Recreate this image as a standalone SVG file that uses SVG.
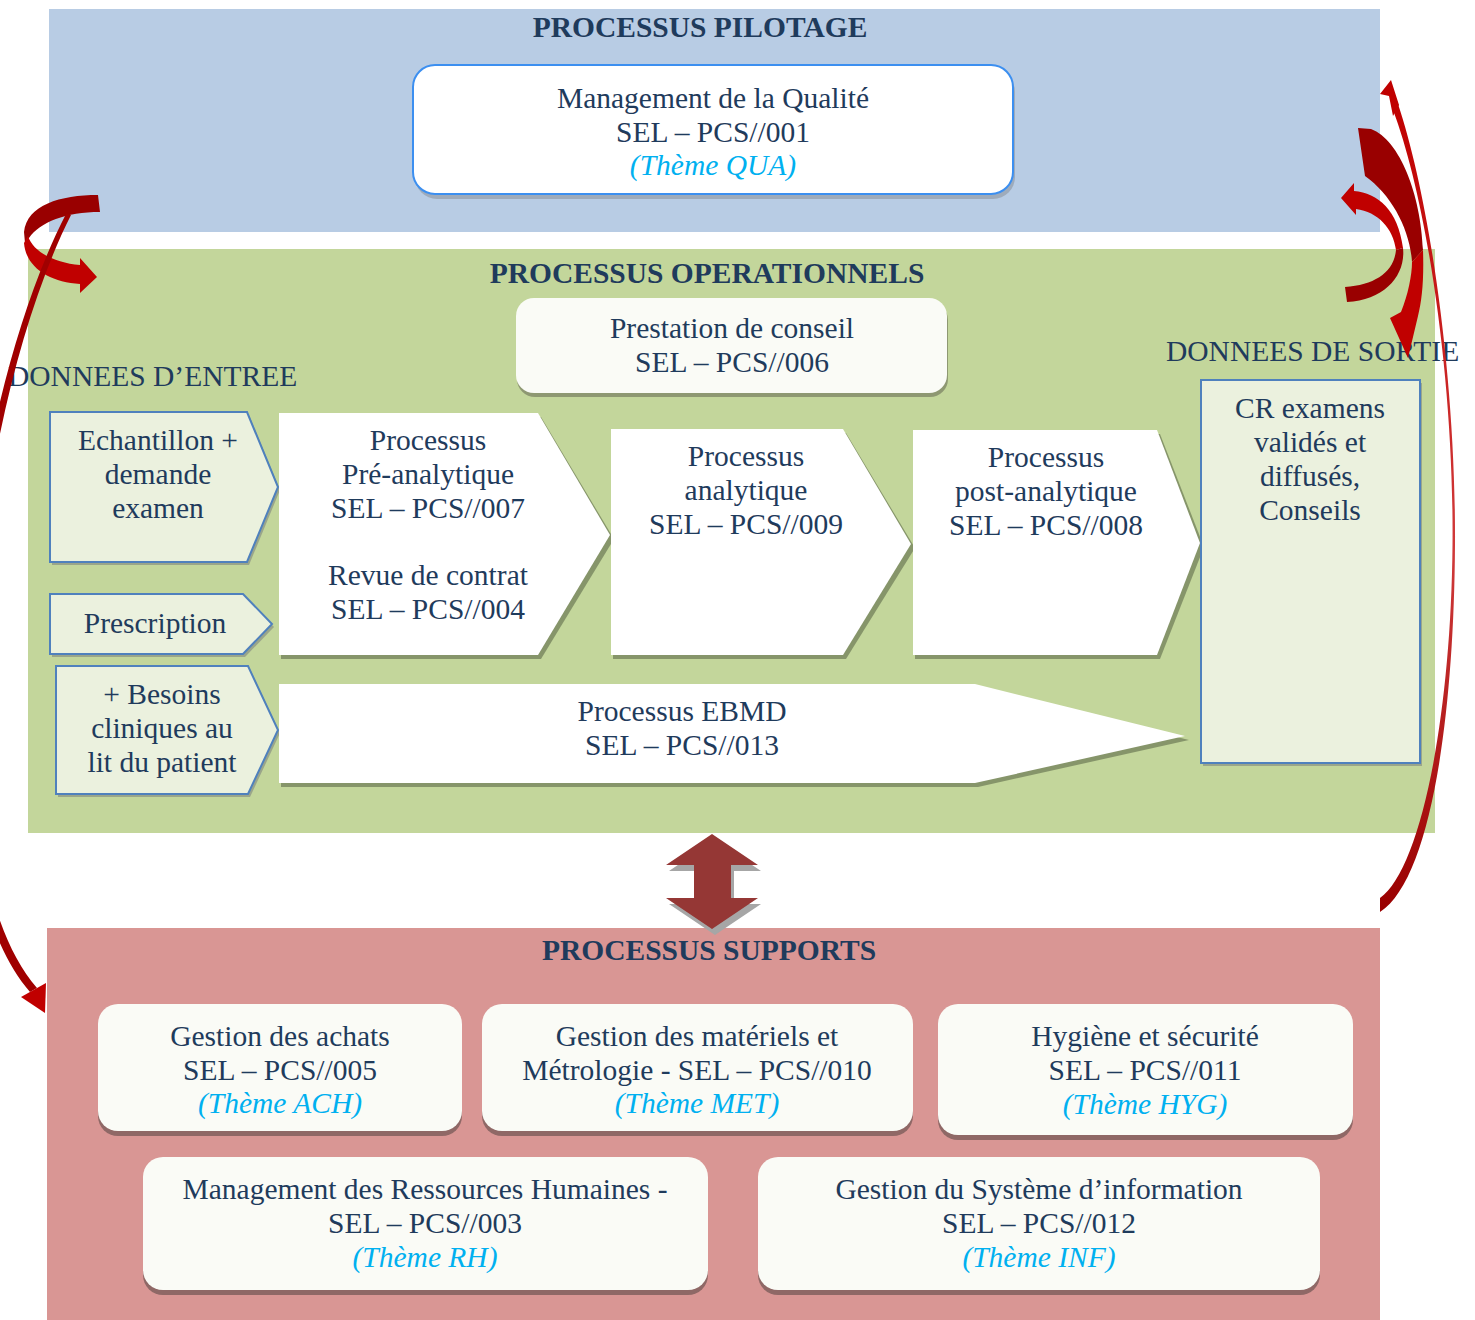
<svg xmlns="http://www.w3.org/2000/svg" xmlns:xlink="http://www.w3.org/1999/xlink" width="1475" height="1320" viewBox="0 0 1475 1320">
  <defs>
    <style>
      .t { font-family: "Liberation Serif", "Times New Roman", serif; font-size: 29.5px; fill: #1f3b5c; text-anchor: middle; }
      .title { font-weight: bold; }
      .lbl { text-anchor: start; }
      .theme { font-style: italic; fill: #00b0f0; }
      .card { fill: #fafbf6; }
      .input { fill: #ebf1de; stroke: #4f81bd; stroke-width: 2; }
      .proc { fill: #ffffff; }
      .shadow-g { fill: #86956a; }
      .shadow-r { fill: #8f6866; }
      .dark { fill: #990000; }
      .light { fill: #c00000; }
    </style>
    <linearGradient id="arcR" x1="0" y1="0" x2="0" y2="1">
      <stop offset="0" stop-color="#c00000"/>
      <stop offset="0.55" stop-color="#d03a3a"/>
      <stop offset="1" stop-color="#990000"/>
    </linearGradient>
  </defs>

  <!-- bands -->
  <g id="band-pilotage">
    <rect x="49" y="9" width="1331" height="223" fill="#b8cce4"/>
    <text class="t title" x="700" y="37">PROCESSUS PILOTAGE</text>
  </g>
  <g id="band-operationnels">
    <rect x="28" y="249" width="1407" height="584" fill="#c3d69b"/>
    <text class="t title" x="707" y="283">PROCESSUS OPERATIONNELS</text>
    <text class="t lbl" x="8" y="386">DONNEES D’ENTREE</text>
    <text class="t lbl" x="1166" y="361">DONNEES DE SORTIE</text>
  </g>
  <g id="band-supports">
    <rect x="47" y="928" width="1333" height="392" fill="#d99694"/>
    <text class="t title" x="709" y="960">PROCESSUS SUPPORTS</text>
  </g>

  <!-- pilotage -->
  <g id="node-qualite">
    <rect x="415" y="70" width="600" height="129" rx="22" fill="#9eabbb"/>
    <rect x="413" y="65" width="600" height="129" rx="22" fill="#ffffff" stroke="#3c8ff0" stroke-width="2"/>
    <text class="t" x="713" y="108">Management de la Qualité</text>
    <text class="t" x="713" y="142">SEL – PCS//001</text>
    <text class="t theme" x="713" y="175">(Thème QUA)</text>
  </g>

  <!-- operationnels -->
  <g id="node-conseil">
    <rect x="517" y="302" width="431" height="95" rx="18" fill="#8e9872"/>
    <rect x="516" y="298" width="431" height="95" rx="18" class="card"/>
    <text class="t" x="732" y="338">Prestation de conseil</text>
    <text class="t" x="732" y="372">SEL – PCS//006</text>
  </g>

  <g id="node-echantillon">
    <path d="M52,415 L249,415 L280,490 L249,565 L52,565 Z" fill="#9aa58a"/>
    <path class="input" d="M50,412 L247,412 L278,487 L247,562 L50,562 Z"/>
    <text class="t" x="158" y="450">Echantillon +</text>
    <text class="t" x="158" y="484">demande</text>
    <text class="t" x="158" y="518">examen</text>
  </g>
  <g id="node-prescription">
    <path d="M52,597 L245,597 L274,627 L245,657 L52,657 Z" fill="#9aa58a"/>
    <path class="input" d="M50,594 L243,594 L272,624 L243,654 L50,654 Z"/>
    <text class="t" x="155" y="633">Prescription</text>
  </g>
  <g id="node-besoins">
    <path d="M58,669 L250,669 L280,733 L250,797 L58,797 Z" fill="#9aa58a"/>
    <path class="input" d="M56,666 L248,666 L278,730 L248,794 L56,794 Z"/>
    <text class="t" x="162" y="704">+ Besoins</text>
    <text class="t" x="162" y="738">cliniques au</text>
    <text class="t" x="162" y="772">lit du patient</text>
  </g>

  <g id="node-pre-analytique">
    <path class="shadow-g" d="M281,417 L541,417 L614,539 L541,659 L281,659 Z"/>
    <path class="proc" d="M279,413 L538,413 L610,535 L538,655 L279,655 Z"/>
    <text class="t" x="428" y="450">Processus</text>
    <text class="t" x="428" y="484">Pré-analytique</text>
    <text class="t" x="428" y="518">SEL – PCS//007</text>
    <text class="t" x="428" y="585">Revue de contrat</text>
    <text class="t" x="428" y="619">SEL – PCS//004</text>
  </g>
  <g id="node-analytique">
    <path class="shadow-g" d="M613,433 L846,433 L915,548 L846,659 L613,659 Z"/>
    <path class="proc" d="M611,429 L843,429 L911,544 L843,655 L611,655 Z"/>
    <text class="t" x="746" y="466">Processus</text>
    <text class="t" x="746" y="500">analytique</text>
    <text class="t" x="746" y="534">SEL – PCS//009</text>
  </g>
  <g id="node-post-analytique">
    <path class="shadow-g" d="M915,434 L1160,434 L1204,547 L1160,659 L915,659 Z"/>
    <path class="proc" d="M913,430 L1157,430 L1200,543 L1157,655 L913,655 Z"/>
    <text class="t" x="1046" y="467">Processus</text>
    <text class="t" x="1046" y="501">post-analytique</text>
    <text class="t" x="1046" y="535">SEL – PCS//008</text>
  </g>
  <g id="node-ebmd">
    <path class="shadow-g" d="M281,688 L978,688 L1189,740 L978,787 L281,787 Z"/>
    <path class="proc" d="M279,684 L975,684 L1185,736 L975,783 L279,783 Z"/>
    <text class="t" x="682" y="721">Processus EBMD</text>
    <text class="t" x="682" y="755">SEL – PCS//013</text>
  </g>

  <g id="node-sortie">
    <rect x="1203" y="383" width="219" height="383" fill="#9aa58a"/>
    <rect class="input" x="1201" y="380" width="219" height="383"/>
    <text class="t" x="1310" y="418">CR examens</text>
    <text class="t" x="1310" y="452">validés et</text>
    <text class="t" x="1310" y="486">diffusés,</text>
    <text class="t" x="1310" y="520">Conseils</text>
  </g>

  <!-- supports -->
  <g id="node-achats">
    <rect class="shadow-r" x="98" y="1009" width="364" height="127" rx="20"/>
    <rect class="card" x="98" y="1004" width="364" height="127" rx="20"/>
    <text class="t" x="280" y="1046">Gestion des achats</text>
    <text class="t" x="280" y="1080">SEL – PCS//005</text>
    <text class="t theme" x="280" y="1113">(Thème ACH)</text>
  </g>
  <g id="node-materiels">
    <rect class="shadow-r" x="482" y="1009" width="431" height="127" rx="20"/>
    <rect class="card" x="482" y="1004" width="431" height="127" rx="20"/>
    <text class="t" x="697" y="1046">Gestion des matériels et</text>
    <text class="t" x="697" y="1080">Métrologie - SEL – PCS//010</text>
    <text class="t theme" x="697" y="1113">(Thème MET)</text>
  </g>
  <g id="node-hygiene">
    <rect class="shadow-r" x="938" y="1009" width="415" height="131" rx="20"/>
    <rect class="card" x="938" y="1004" width="415" height="131" rx="20"/>
    <text class="t" x="1145" y="1046">Hygiène et sécurité</text>
    <text class="t" x="1145" y="1080">SEL – PCS//011</text>
    <text class="t theme" x="1145" y="1114">(Thème HYG)</text>
  </g>
  <g id="node-rh">
    <rect class="shadow-r" x="143" y="1162" width="565" height="133" rx="20"/>
    <rect class="card" x="143" y="1157" width="565" height="133" rx="20"/>
    <text class="t" x="425" y="1199">Management des Ressources Humaines -</text>
    <text class="t" x="425" y="1233">SEL – PCS//003</text>
    <text class="t theme" x="425" y="1267">(Thème RH)</text>
  </g>
  <g id="node-si">
    <rect class="shadow-r" x="758" y="1162" width="562" height="133" rx="20"/>
    <rect class="card" x="758" y="1157" width="562" height="133" rx="20"/>
    <text class="t" x="1039" y="1199">Gestion du Système d’information</text>
    <text class="t" x="1039" y="1233">SEL – PCS//012</text>
    <text class="t theme" x="1039" y="1267">(Thème INF)</text>
  </g>

  <!-- connectors -->
  <g id="connectors">
    <!-- double arrow between operationnels and supports -->
    <path d="M715,840 L761,871 L734,871 L734,904 L761,904 L715,935 L669,904 L697,904 L697,871 L669,871 Z" fill="#a6a6a6"/>
    <path d="M712,834 L758,865 L731,865 L731,898 L758,898 L712,929 L666,898 L694,898 L694,865 L666,865 Z" fill="#953735"/>

    <!-- top-left curved arrow: pilotage to operationnels -->
    <path class="dark" d="M98,195 C60,195 27,205 24,232 L25,243 L29,238 C40,222 66,212 100,212 Z"/>
    <path class="light" d="M28,236 C33,252 55,263 80,265 L80,258 L97,277 L80,293 L80,284 C50,282 26,268 24,243 Z"/>

    <!-- long arc on the left: pilotage to supports -->
    <path fill="#a00000" d="M66,214 C-40,420 -85,860 30,992 L37,988 C-75,860 -32,420 71,215 Z"/>
    <path class="light" d="M45,1013 L21,997 L46,983 Z"/>

    <!-- top-right curved arrows -->
    <path class="dark" d="M1358,128 L1371,129 C1400,140 1421,195 1423,250 L1412,262 C1410,230 1392,195 1365,176 Z"/>
    <path class="light" d="M1423,250 C1424,280 1422,300 1418,316 L1408,358 L1390,318 L1401,312 C1408,295 1412,275 1412,262 Z"/>
    <path class="light" d="M1354,191 C1378,193 1398,210 1403,248 L1396,250 C1393,228 1378,212 1356,209 L1356,215 L1341,198 L1354,183 Z"/>
    <path class="dark" d="M1403,248 C1406,275 1385,300 1347,302 L1345,287 C1375,285 1394,272 1396,250 Z"/>

    <!-- long arc on the right: supports back to pilotage -->
    <path fill="url(#arcR)" d="M1398,104 C1430,200 1456,380 1455,545 C1454,720 1430,880 1380,912 L1380,898 C1420,870 1451,720 1452.5,545 C1454,380 1427,200 1393,110 Z"/>
    <path class="light" d="M1391,80 L1380,94 L1389,96 L1393,116 L1399,105 Z"/>
  </g>
</svg>
